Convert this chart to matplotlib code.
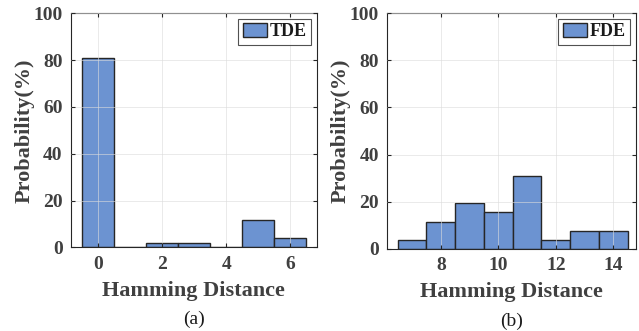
import matplotlib.pyplot as plt
import numpy as np

# TDE histogram (panel a)
tde_dist = [0, 1, 2, 3, 4, 5, 6]
tde_prob = [80.77, 0.0, 1.92, 1.92, 0.0, 11.54, 3.85]

# FDE histogram (panel b)
fde_dist = [7, 8, 9, 10, 11, 12, 13, 14]
fde_prob = [3.85, 11.54, 19.23, 15.38, 30.77, 3.85, 7.69, 7.69]

BAR_COLOR = "#6c93d1"
EDGE_COLOR = "#262626"
TEXT_COLOR = "#404040"

plt.rcParams["font.family"] = ["Liberation Serif", "DejaVu Serif"]


def draw_panel(ax, dist, prob, label, xlim, xticks, caption):
    ax.bar(dist, prob, width=1.0, color=BAR_COLOR, edgecolor=EDGE_COLOR,
           linewidth=1.0, label=label, zorder=2)
    ax.set_xlim(*xlim)
    ax.set_ylim(0, 100)
    ax.set_xticks(xticks)
    ax.set_yticks([0, 20, 40, 60, 80, 100])
    ax.grid(True, color="#dcdcdc", linewidth=0.6, alpha=0.7, zorder=3)
    ax.set_axisbelow(False)
    ax.tick_params(direction="in", top=True, right=True, length=3,
                   width=0.8, colors=EDGE_COLOR, labelcolor=TEXT_COLOR,
                   labelsize=14, pad=6)
    for lab in ax.get_xticklabels() + ax.get_yticklabels():
        lab.set_fontweight("bold")
    for sp in ax.spines.values():
        sp.set_color(EDGE_COLOR)
        sp.set_linewidth(0.8)
    ax.set_xlabel("Hamming Distance", fontsize=16, fontweight="bold",
                  color=TEXT_COLOR, labelpad=6)
    ax.set_ylabel("Probability(%)", fontsize=16, fontweight="bold",
                  color=TEXT_COLOR, labelpad=-1)
    leg = ax.legend(loc="upper right", frameon=True, fancybox=False,
                    handlelength=1.35, handleheight=0.75, handletextpad=0.15,
                    borderpad=0.25, borderaxespad=0.3,
                    prop={"weight": "bold", "size": 13})
    leg.get_frame().set_edgecolor(EDGE_COLOR)
    leg.get_frame().set_linewidth(0.8)
    for t in leg.get_texts():
        t.set_color("#1a1a1a")
    ax.text(0.5, -0.31, caption, transform=ax.transAxes, ha="center",
            va="center", fontsize=14, color="#1a1a1a")


fig = plt.figure(figsize=(6.39, 3.31), dpi=100)
ax1 = fig.add_axes([71 / 639, 1 - 247.3 / 331, (316.7 - 71) / 639, 234 / 331])
ax2 = fig.add_axes([387.3 / 639, 1 - 248.7 / 331, (635.7 - 387.3) / 639, 235.4 / 331])

draw_panel(ax1, tde_dist, tde_prob, "TDE", (-0.85, 6.82), [0, 2, 4, 6], "(a)")
draw_panel(ax2, fde_dist, fde_prob, "FDE", (6.14, 14.78), [8, 10, 12, 14], "(b)")

fig.savefig("out.png", dpi=100)
